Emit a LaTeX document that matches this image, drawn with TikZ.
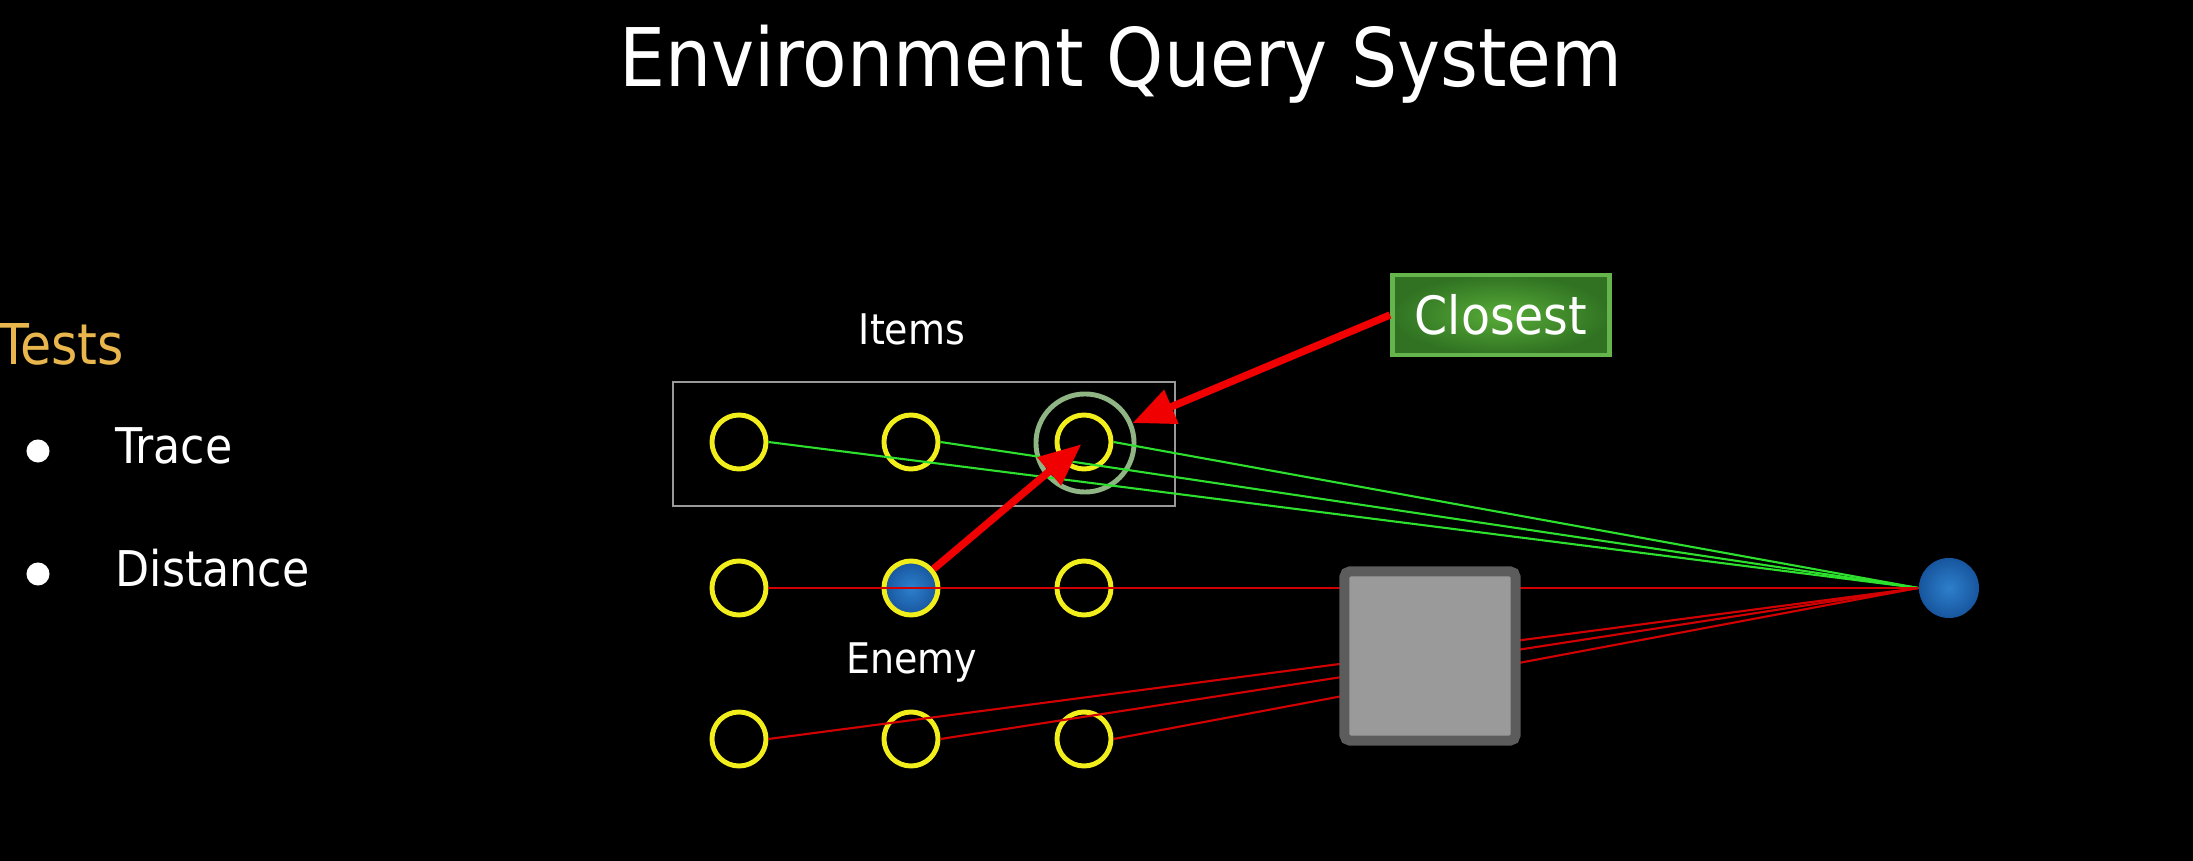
\documentclass[tikz,border=0pt]{standalone}
\usepackage{fontspec}
\setmainfont{DejaVu Sans Condensed}
\usetikzlibrary{arrows.meta,positioning}
\definecolor{itemyellow}{HTML}{F2EE1C}
\definecolor{tracegreen}{HTML}{2EE02E}
\definecolor{tracered}{HTML}{D20000}
\definecolor{arrowred}{HTML}{F00000}
\definecolor{ringgreen}{HTML}{8FB584}
\definecolor{testgold}{HTML}{E8B64C}
\definecolor{ballblue}{HTML}{2E7FCC}
\definecolor{balldark}{HTML}{17569E}
\definecolor{boxgreen}{HTML}{58AC38}
\definecolor{boxdark}{HTML}{307222}
\definecolor{boxedge}{HTML}{66B44C}
\definecolor{wallgray}{HTML}{5C5C5C}
\definecolor{wallfill}{HTML}{9A9A9A}

\begin{document}
\begin{tikzpicture}[x=0.01cm, y=-0.01cm,
    every node/.style={text=white, inner sep=0pt},
    item/.style={circle, draw=itemyellow, line width=1.4pt, minimum size=0.54cm},
    blueball/.style={circle, inner color=ballblue, outer color=balldark},
    i22/.style={blueball},
    trace/.style={tracegreen, line width=0.6pt},
    ray/.style={tracered, line width=0.6pt},
    hit/.style={arrowred, line width=2.1pt, -{Triangle[length=12pt, width=10pt]}},
    dot/.style={circle, fill=white, minimum size=0.23cm},
    caption/.style={font=\fontsize{12}{14}\selectfont, anchor=base}]
  \useasboundingbox (0,0) rectangle (2193,861);
  \fill[black] (-5,-5) rectangle (2198,866);

  \node[font=\fontsize{23}{28}\selectfont, anchor=base] (title) at (1121,87) {Environment Query System};

  % tests list
  \node[font=\fontsize{16}{19}\selectfont, text=testgold, anchor=base west] (tests) at (-2,365) {Tests};
  \node[dot] (dot1) at (38,451) {};
  \node[dot] (dot2) at (38,574) {};
  \node[font=\fontsize{14}{17}\selectfont, anchor=base west] (trace) at (115,464) {Trace};
  \node[font=\fontsize{14}{17}\selectfont, anchor=base west] (distance) at (115,587) {Distance};

  % item grid
  \node[draw=gray!80, line width=0.6pt, minimum width=5.02cm, minimum height=1.24cm] (itembox) at (924,444) {};
  \node[caption] (items) at (912,345) {Items};
  \node[caption] (enemy) at (912,673) {Enemy};
  \foreach \r/\y in {1/442,2/588,3/739}
    \foreach \c/\x in {1/739,2/911,3/1084}
      \node[item, i\r\c/.try] (i\r\c) at (\x,\y) {};
  \node[circle, draw=ringgreen, line width=1.4pt, minimum size=0.98cm] (ring) at (1085,443) {};

  \node[blueball, minimum size=0.6cm] (ball) at (1949,588) {};

  % traces
  \foreach \c in {1,2,3}
    \draw[trace] (i1\c.east) -- (ball.west);
  \foreach \r in {2,3}
    \foreach \c in {1,2,3}
      \draw[ray] (i\r\c.east) -- (ball.west);

  \node[draw=wallgray, fill=wallfill, line width=0.1cm, rounded corners=1.5pt,
        minimum width=1.71cm, minimum height=1.69cm] (wall) at (1430,656) {};

  \node[draw=boxedge, line width=1.4pt, inner color=boxgreen, outer color=boxdark,
        minimum width=2.17cm, minimum height=0.8cm, font=\fontsize{15}{18}\selectfont] (closest) at (1501,315) {Closest};

  \draw[hit] (closest.west) -- (ring);
  \draw[hit, shorten >=1pt] (i22) -- (i13.center);
\end{tikzpicture}
\end{document}
